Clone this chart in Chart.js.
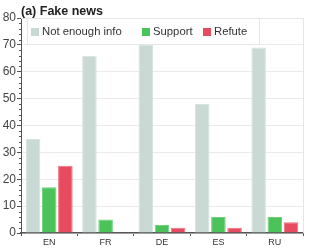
<!DOCTYPE html>
<html><head><meta charset="utf-8">
<script src="https://cdn.jsdelivr.net/npm/chart.js@4"></script>
<style>html,body{margin:0;padding:0;background:#fff}#wrap{width:316px;height:249px}</style>
</head><body><div id="wrap"><canvas id="c" width="316" height="249"></canvas></div>
<script>
const titleText = "(a) Fake news";
const categories = ["EN", "FR", "DE", "ES", "RU"];
const seriesNames = ["Not enough info", "Support", "Refute"];
const notEnoughInfo = [35, 66, 70, 48, 69];
const support = [17, 5, 3, 6, 6];
const refute = [25, 0.3, 2, 2, 4];
const yTicks = [0, 10, 20, 30, 40, 50, 60, 70, 80];
const colors = ["#c9dad4", "#4cc25a", "#e84b5f"];
const borders = ["#d6e4df", "#6fd07b", "#ef7182"];

const FONT = "'Liberation Sans', Arial, sans-serif";

const deco = {
  id: 'deco',
  afterDraw(chart) {
    const ctx = chart.ctx, a = chart.chartArea, ys = chart.scales.y;
    ctx.save();
    ctx.strokeStyle = '#e6e6e6'; ctx.lineWidth = 1;
    ctx.beginPath();
    ctx.moveTo(a.left, a.top + 0.5); ctx.lineTo(a.right + 0.5, a.top + 0.5);
    ctx.lineTo(a.right + 0.5, a.bottom);
    ctx.stroke();
    ctx.strokeStyle = '#555'; ctx.lineWidth = 1;
    for (let v = 0; v <= 80; v += 2) {
      if (v % 10 === 0) continue;
      const y = Math.round(ys.getPixelForValue(v)) + 0.5;
      ctx.beginPath(); ctx.moveTo(a.left - 2, y); ctx.lineTo(a.left, y); ctx.stroke();
    }
    ctx.fillStyle = '#222';
    ctx.font = "bold 12.5px " + FONT;
    ctx.textBaseline = 'middle'; ctx.textAlign = 'left';
    ctx.fillText(titleText, 21, 12);
    const lx = 27, ly = Math.round(a.top), lw = 232, lh = 26;
    ctx.fillStyle = '#fff';
    ctx.fillRect(lx, ly, lw, lh);
    ctx.strokeStyle = '#e6e6e6';
    ctx.strokeRect(lx + 0.5, ly + 0.5, lw, lh);
    ctx.font = "11.3px " + FONT;
    const xs = [31, 142, 203];
    seriesNames.forEach((n, i) => {
      ctx.fillStyle = colors[i];
      ctx.fillRect(xs[i], 28, 8, 8);
      ctx.fillStyle = '#333';
      ctx.fillText(n, xs[i] + 11, 32);
    });
    ctx.restore();
  }
};

new Chart(document.getElementById('c'), {
  type: 'bar',
  data: {
    labels: categories,
    datasets: seriesNames.map((n, i) => ({
      label: n,
      data: [notEnoughInfo, support, refute][i],
      backgroundColor: colors[i],
      borderColor: borders[i],
      borderWidth: 1,
      categoryPercentage: 0.86,
      barPercentage: 0.9
    }))
  },
  options: {
    responsive: false,
    animation: false,
    devicePixelRatio: 1,
    layout: { padding: { top: 18, right: 13, left: 0, bottom: 0 } },
    plugins: { legend: { display: false }, tooltip: { enabled: false }, title: { display: false } },
    scales: {
      x: {
        afterFit: s => { s.height = 16; },
        grid: { display: true, drawOnChartArea: false, drawTicks: true, tickLength: 3, color: '#555' },
        border: { display: true, color: '#555', width: 1.5 },
        ticks: { color: '#333', font: { family: FONT, size: 9 }, padding: 1 }
      },
      y: {
        min: 0, max: 80,
        afterFit: s => { s.width = 21; },
        afterBuildTicks: s => { s.ticks = yTicks.map(v => ({ value: v })); },
        grid: { color: '#ebebeb', tickColor: '#555', tickLength: 4, drawTicks: true },
        border: { display: true, color: '#555', width: 1 },
        ticks: { color: '#444', font: { family: FONT, size: 12 }, padding: 1 }
      }
    }
  },
  plugins: [deco]
});
</script></body></html>
